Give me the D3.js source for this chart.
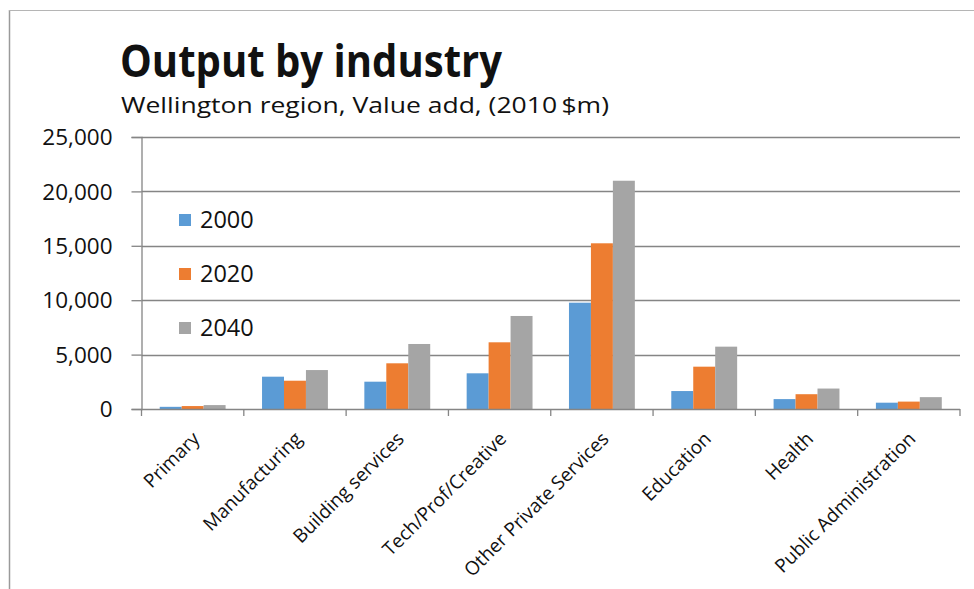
<!DOCTYPE html>
<html>
<head>
<meta charset="utf-8">
<script src="https://cdn.jsdelivr.net/npm/d3@7"></script>
<style>
  html, body { margin: 0; padding: 0; background: #fff; }
  svg { display: block; }
  text { font-family: "Open Sans", "Noto Sans", sans-serif; fill: #111; }
</style>
</head>
<body>
<svg id="chart" width="974" height="589"></svg>
<script>
// Industry categories along the x axis
const categories = ["Primary", "Manufacturing", "Building services", "Tech/Prof/Creative",
  "Other Private Services", "Education", "Health", "Public Administration"];

// Series (years) and their value add, 2010 $m
const years = ["2000", "2020", "2040"];
const values2000 = [200, 2970, 2510, 3280, 9770, 1650, 910, 580];
const values2020 = [270, 2600, 4200, 6130, 15230, 3890, 1360, 680];
const values2040 = [360, 3580, 5975, 8550, 20980, 5730, 1880, 1090];
const seriesValues = [values2000, values2020, values2040];
const colors = ["#5B9BD5", "#ED7D31", "#A5A5A5"];

const yTicks = [0, 5000, 10000, 15000, 20000, 25000];

const svg = d3.select("#chart");
const W = 974, H = 589;
const plot = { left: 141.5, right: 960, top: 137, bottom: 409 };

// Frame lines of the chart area
svg.append("line").attr("x1", 9.5).attr("x2", 9.5).attr("y1", 10).attr("y2", H)
  .attr("stroke", "#9a9a9a").attr("stroke-width", 1.5);
svg.append("line").attr("x1", 9).attr("x2", W).attr("y1", 10.5).attr("y2", 10.5)
  .attr("stroke", "#b5b5b5").attr("stroke-width", 1.2);

// Title and subtitle
svg.append("text").attr("x", 120).attr("y", 77)
  .attr("font-size", 45).attr("font-weight", 700)
  .attr("textLength", 382).attr("lengthAdjust", "spacingAndGlyphs")
  .text("Output by industry");
svg.append("text").attr("x", 121).attr("y", 113)
  .attr("font-size", 22.5)
  .attr("textLength", 488).attr("lengthAdjust", "spacingAndGlyphs")
  .text("Wellington region, Value add, (2010\u2009$m)");

// Scales
const x0 = d3.scaleBand().domain(categories).range([plot.left, plot.right]).padding(0);
const x1 = d3.scaleBand().domain(years).range([0, x0.bandwidth()])
  .paddingInner(0).paddingOuter(0.83);
const y = d3.scaleLinear().domain([0, 25000]).range([plot.bottom, plot.top]);

// Horizontal gridlines
svg.append("g").selectAll("line").data(yTicks.filter(d => d > 0)).join("line")
  .attr("x1", plot.left).attr("x2", plot.right)
  .attr("y1", d => Math.round(y(d)) + 0.5).attr("y2", d => Math.round(y(d)) + 0.5)
  .attr("stroke", "#858585").attr("stroke-width", 1.3);

// Y axis
const yAxis = d3.axisLeft(y).tickValues(yTicks).tickSize(10).tickPadding(19)
  .tickFormat(d3.format(","));
const gy = svg.append("g").attr("transform", `translate(${plot.left},0)`).call(yAxis);
gy.select(".domain").attr("stroke", "#858585").attr("stroke-width", 1.3);
gy.selectAll(".tick line").attr("stroke", "#858585").attr("stroke-width", 1.3);
gy.selectAll(".tick text").attr("font-size", 22.5).attr("fill", "#111")
  .attr("font-family", "'Open Sans', sans-serif").attr("dy", "0.34em");

// Bars
const barData = [];
categories.forEach((c, i) => {
  years.forEach((yr, s) => barData.push({ cat: c, year: yr, s, v: seriesValues[s][i] }));
});
svg.append("g").selectAll("rect").data(barData).join("rect")
  .attr("x", d => x0(d.cat) + x1(d.year))
  .attr("width", x1.bandwidth())
  .attr("y", d => y(d.v))
  .attr("height", d => y(0) - y(d.v))
  .attr("fill", d => colors[d.s]);

// X axis with ticks at category boundaries
const gx = svg.append("g").attr("transform", `translate(0,${plot.bottom})`);
gx.append("line").attr("x1", plot.left).attr("x2", plot.right).attr("y1", 0.5).attr("y2", 0.5)
  .attr("stroke", "#858585").attr("stroke-width", 1.3);
const bounds = categories.map(c => x0(c)).concat([plot.right]);
gx.selectAll("line.tk").data(bounds).join("line").attr("class", "tk")
  .attr("x1", d => d).attr("x2", d => d).attr("y1", 0).attr("y2", 7)
  .attr("stroke", "#858585").attr("stroke-width", 1.3);
gx.selectAll("text").data(categories).join("text")
  .attr("transform", d => `translate(${x0(d) + x0.bandwidth() / 2 + 8},${31}) rotate(-45)`)
  .attr("text-anchor", "end")
  .attr("font-size", 19)
  .text(d => d);

// Legend inside the plot area
const legend = svg.append("g").selectAll("g").data(years).join("g")
  .attr("transform", (d, i) => `translate(179,${220 + i * 54})`);
legend.append("rect").attr("x", 0).attr("y", -6).attr("width", 12).attr("height", 12)
  .attr("fill", (d, i) => colors[i]);
legend.append("text").attr("x", 21).attr("y", 0).attr("dy", "0.35em")
  .attr("font-size", 23.5).text(d => d);
</script>
</body>
</html>
